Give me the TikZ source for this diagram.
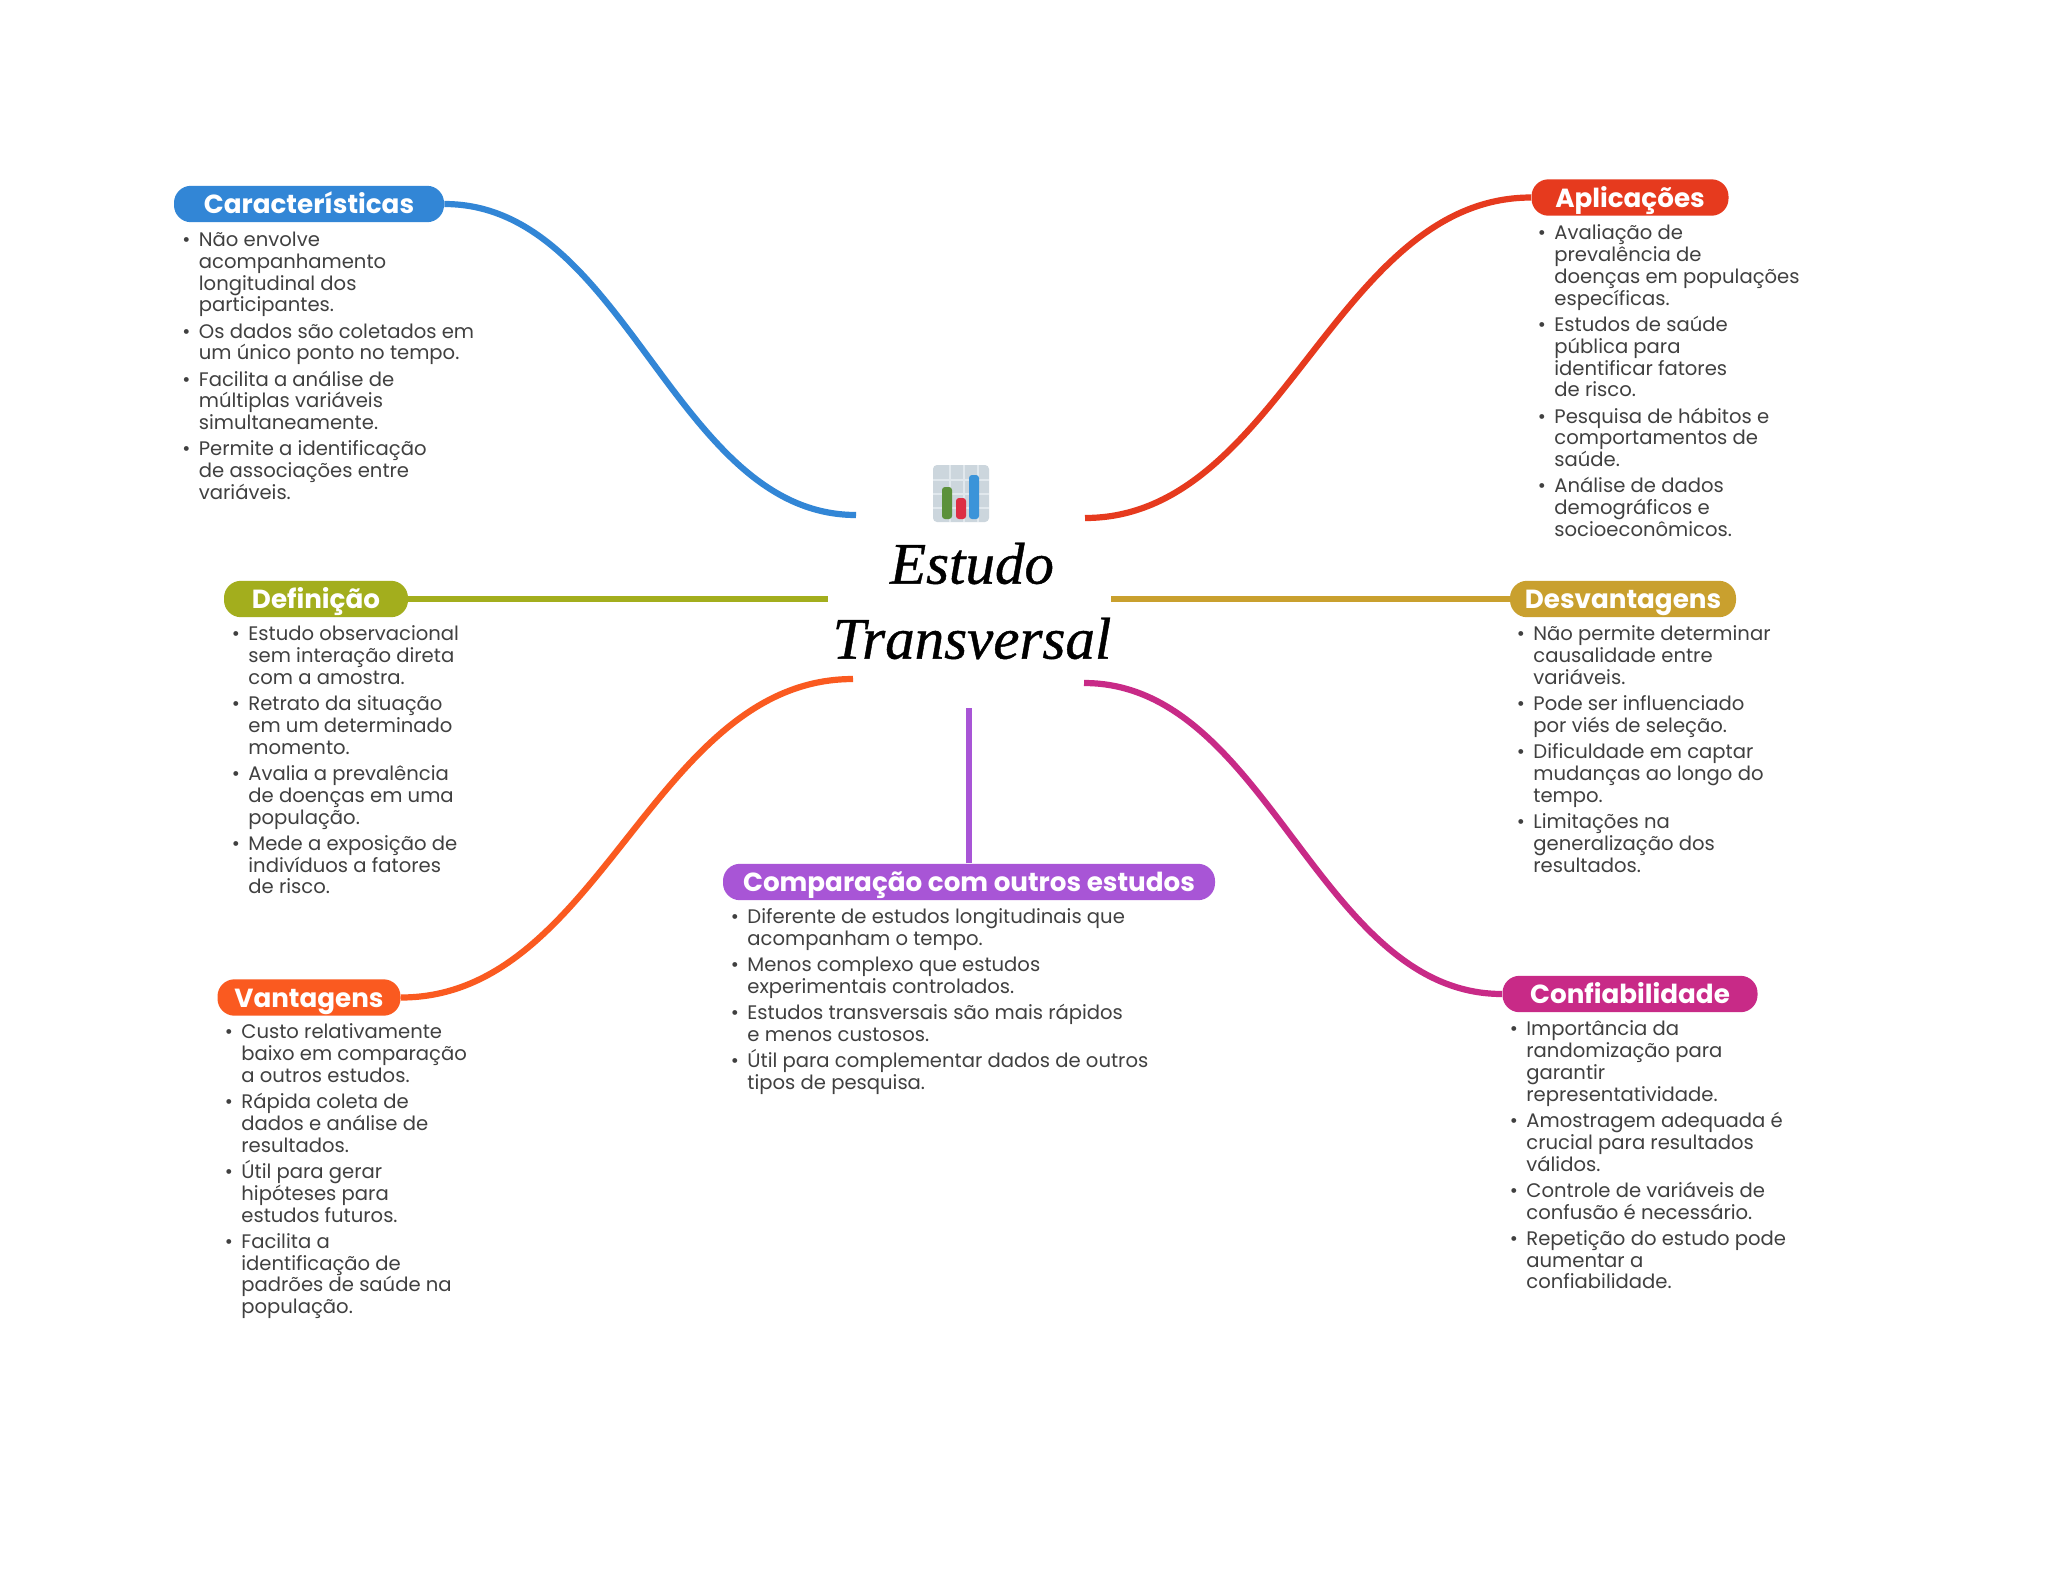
\documentclass[tikz,border=0pt]{standalone}
\usepackage{fontspec}
\setmainfont{Poppins}
\newfontfamily\titlefont[ItalicFeatures={FakeBold=0.7}]{Liberation Serif}
\definecolor{cblue}{HTML}{3286D6}
\definecolor{cred}{HTML}{E63A1E}
\definecolor{colive}{HTML}{A3AE1D}
\definecolor{cgold}{HTML}{C9A02E}
\definecolor{corange}{HTML}{FA5A20}
\definecolor{cmag}{HTML}{C82A87}
\definecolor{cpurple}{HTML}{A855D6}
\definecolor{ctext}{HTML}{404040}
\definecolor{icbg}{HTML}{CCD6DD}
\definecolor{icline}{HTML}{E1E8ED}
\definecolor{icgreen}{HTML}{5C913B}
\definecolor{icred}{HTML}{DD2E44}
\definecolor{icblue}{HTML}{3B94D9}
\newcommand{\itm}{\llap{\textbullet\hspace{4.2pt}}}
\newcommand{\gap}{\\[2.2pt]}
\tikzset{
  pill/.style={fill=#1,text=white,rounded corners=8.5pt,minimum height=18.2pt,inner sep=0pt,text height=9.5pt,text depth=0pt,font=\fontsize{13.1}{15}\selectfont\bfseries},
  body/.style={anchor=north west,inner sep=0pt,align=left,text=ctext,font=\fontsize{9.8}{10.9}\selectfont},
  link/.style={line width=3.1pt,draw=#1},
}
\begin{document}
\begin{tikzpicture}[x=0.5pt,y=-0.5pt]
\useasboundingbox (0,0) rectangle (2048,1569);
\fill[white] (0,0) rectangle (2048,1569);
% pills
\node[pill=cblue,minimum width=135pt] (car) at (309,204) {Características};
\node[pill=cred,minimum width=98.5pt] (apl) at (1630,197.5) {Aplicações};
\node[pill=colive,minimum width=92pt] (def) at (316,599) {Definição};
\node[pill=cgold,minimum width=113pt] (des) at (1623,599) {Desvantagens};
\node[pill=corange,minimum width=91.5pt] (van) at (309,997.5) {Vantagens};
\node[pill=cmag,minimum width=127.5pt] (con) at (1630,994) {Confiabilidade};
\node[pill=cpurple,minimum width=246pt] (com) at (969,882) {Comparação com outros estudos};
% free ends
\coordinate (ecar) at (856,515);
\coordinate (eapl) at (1085,518);
\coordinate (edef) at (828,599);
\coordinate (edes) at (1111,599);
\coordinate (evan) at (853,679);
\coordinate (econ) at (1084,683);
\coordinate (ecom) at (969,708);
% connectors
\draw[link=cblue] (car.east) .. controls +(182,0) and +(-182,0) .. (ecar);
\draw[link=cred] (apl.west) .. controls +(-196,0) and +(196,0) .. (eapl);
\draw[link=colive] (def.east) -- (edef);
\draw[link=cgold] (des.west) -- (edes);
\draw[link=corange] (van.east) .. controls +(200,0) and +(-200,0) .. (evan);
\draw[link=cmag] (con.west) .. controls +(-184,0) and +(184,0) .. (econ);
\draw[link=cpurple] (com.north) -- (ecom);
% icon
\fill[icbg,rounded corners=2pt] (933,465) rectangle (989,522);
\foreach \x in {949,963,977}{\fill[icline] (\x,465) rectangle ++(2,57);}
\foreach \y in {479,493,507}{\fill[icline] (933,\y) rectangle ++(56,2);}
\fill[icgreen,rounded corners=1.5pt] (942,487) rectangle (952,519);
\fill[icred,rounded corners=1.5pt] (956,498) rectangle (966,519);
\fill[icblue,rounded corners=1.5pt] (969,475) rectangle (979,519);
% title
\node[inner sep=0pt,align=center,text=black,font={\titlefont\itshape\fontsize{29.5}{37.5}\selectfont}] (title) at (972,601) {Estudo\\Transversal};
% bodies
\node[body] (bcar) at (198.5,231.6) {\itm Não envolve\\acompanhamento\\longitudinal dos\\participantes.\gap
\itm Os dados são coletados em\\um único ponto no tempo.\gap
\itm Facilita a análise de\\múltiplas variáveis\\simultaneamente.\gap
\itm Permite a identificação\\de associações entre\\variáveis.};
\node[body] (bapl) at (1554,224.6) {\itm Avaliação de\\prevalência de\\doenças em populações\\específicas.\gap
\itm Estudos de saúde\\pública para\\identificar fatores\\de risco.\gap
\itm Pesquisa de hábitos e\\comportamentos de\\saúde.\gap
\itm Análise de dados\\demográficos e\\socioeconômicos.};
\node[body] (bdef) at (248,625.6) {\itm Estudo observacional\\sem interação direta\\com a amostra.\gap
\itm Retrato da situação\\em um determinado\\momento.\gap
\itm Avalia a prevalência\\de doenças em uma\\população.\gap
\itm Mede a exposição de\\indivíduos a fatores\\de risco.};
\node[body] (bdes) at (1533,625.6) {\itm Não permite determinar\\causalidade entre\\variáveis.\gap
\itm Pode ser influenciado\\por viés de seleção.\gap
\itm Dificuldade em captar\\mudanças ao longo do\\tempo.\gap
\itm Limitações na\\generalização dos\\resultados.};
\node[body] (bvan) at (241,1023.6) {\itm Custo relativamente\\baixo em comparação\\a outros estudos.\gap
\itm Rápida coleta de\\dados e análise de\\resultados.\gap
\itm Útil para gerar\\hipóteses para\\estudos futuros.\gap
\itm Facilita a\\identificação de\\padrões de saúde na\\população.};
\node[body] (bcon) at (1526,1020.6) {\itm Importância da\\randomização para\\garantir\\representatividade.\gap
\itm Amostragem adequada é\\crucial para resultados\\válidos.\gap
\itm Controle de variáveis de\\confusão é necessário.\gap
\itm Repetição do estudo pode\\aumentar a\\confiabilidade.};
\node[body] (bcom) at (747,908.6) {\itm Diferente de estudos longitudinais que\\acompanham o tempo.\gap
\itm Menos complexo que estudos\\experimentais controlados.\gap
\itm Estudos transversais são mais rápidos\\e menos custosos.\gap
\itm Útil para complementar dados de outros\\tipos de pesquisa.};
\end{tikzpicture}
\end{document}
